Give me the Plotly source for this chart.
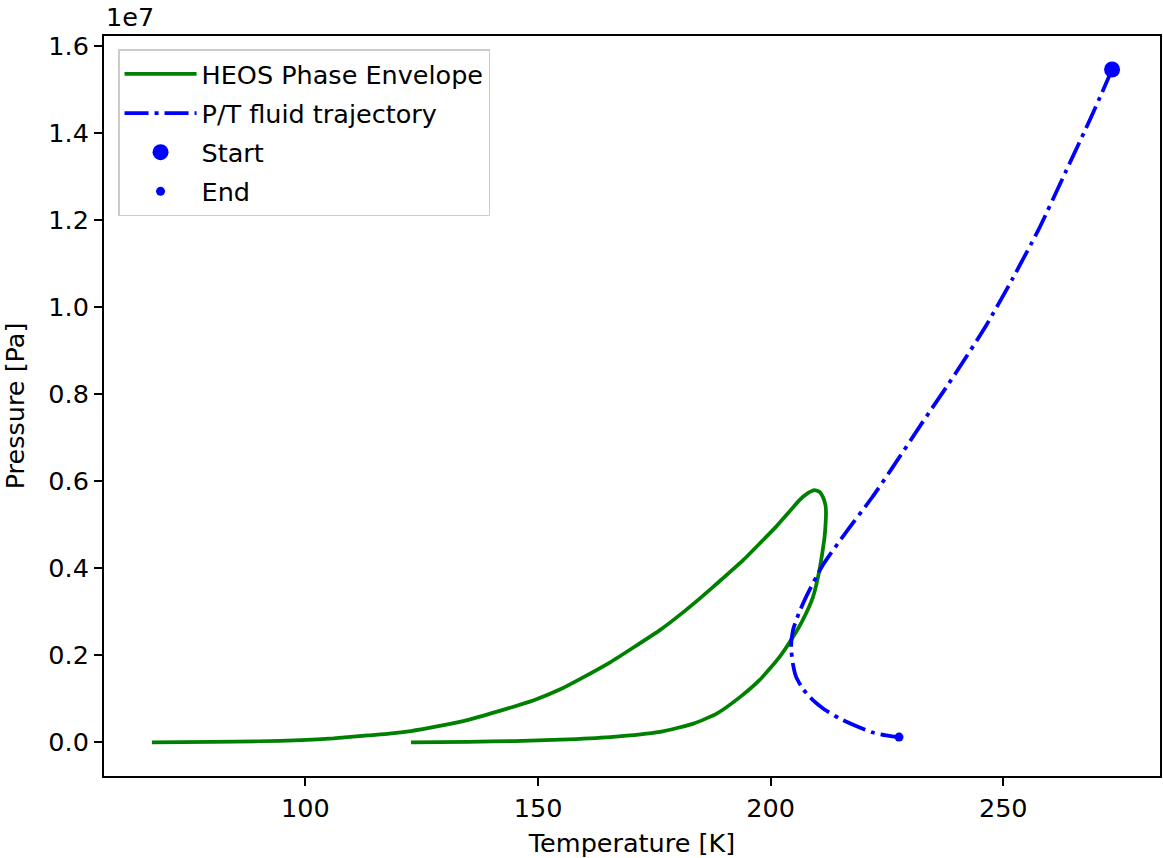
import plotly.graph_objects as go

# Phase envelope (temperature [K], pressure [Pa])
env_T = [67.0, 80.0, 90.0, 99.1, 106.0, 113.4, 118.0, 122.7, 128.0, 134.8, 141.0, 149.1,
         154.8, 159.1, 165.5, 170.5, 176.2, 180.5, 184.8, 189.5, 194.1, 198.0, 201.2, 204.0,
         206.2, 208.0, 209.4, 210.5, 211.2, 211.8, 211.9, 211.8, 211.6, 211.1, 210.5, 209.1,
         206.9, 204.8, 201.9, 197.6, 193.4, 188.4, 183.4, 176.2, 165.5, 154.8, 145.0, 135.0, 122.7]
env_P = [0.0, 0.01e6, 0.025e6, 0.05e6, 0.09e6, 0.16e6, 0.20e6, 0.26e6, 0.36e6, 0.51e6, 0.70e6, 0.97e6,
         1.22e6, 1.46e6, 1.84e6, 2.18e6, 2.58e6, 2.93e6, 3.31e6, 3.75e6, 4.19e6, 4.61e6, 4.96e6, 5.30e6,
         5.57e6, 5.73e6, 5.80e6, 5.76e6, 5.65e6, 5.45e6, 5.26e6, 5.00e6, 4.73e6, 4.35e6, 3.96e6, 3.34e6,
         2.81e6, 2.42e6, 1.96e6, 1.43e6, 1.04e6, 0.66e6, 0.43e6, 0.24e6, 0.12e6, 0.06e6, 0.03e6, 0.01e6, 0.0]

# P/T fluid trajectory
traj_T = [273.4, 269.0, 263.3, 257.6, 251.9, 246.2, 239.8, 232.6, 225.9, 221.8, 216.0, 211.2,
          207.6, 206.0, 204.8, 204.4, 204.8, 205.5, 207.0, 209.1, 211.5, 214.8, 218.5, 221.8,
          224.8, 227.6]
traj_P = [15.47e6, 14.40e6, 13.09e6, 11.79e6, 10.64e6, 9.56e6, 8.49e6, 7.35e6, 6.27e6, 5.63e6, 4.80e6, 4.07e6,
          3.34e6, 2.95e6, 2.58e6, 2.19e6, 1.80e6, 1.50e6, 1.22e6, 0.97e6, 0.76e6, 0.55e6, 0.37e6, 0.23e6,
          0.16e6, 0.12e6]

start_T = [273.4]
start_P = [15.47e6]
end_T = [227.6]
end_P = [0.12e6]

y_tickvals = [0, 2e6, 4e6, 6e6, 8e6, 10e6, 12e6, 14e6, 16e6]
y_ticktext = ["0.0", "0.2", "0.4", "0.6", "0.8", "1.0", "1.2", "1.4", "1.6"]
x_tickvals = [100, 150, 200, 250]

FONT = "DejaVu Sans"
FS = 25.5
TXT = "black"

fig = go.Figure()
fig.add_trace(go.Scatter(x=env_T, y=env_P, mode="lines", name="HEOS Phase Envelope",
                         line=dict(color="green", width=3.75, shape="spline", smoothing=0.5),
                         legendgroup="a"))
fig.add_trace(go.Scatter(x=traj_T, y=traj_P, mode="lines", name="P/T fluid trajectory",
                         line=dict(color="blue", width=3.75, dash="24px,6px,4px,6px",
                                   shape="spline", smoothing=0.6),
                         legendgroup="b"))
fig.add_trace(go.Scatter(x=start_T, y=start_P, mode="markers", name="Start",
                         marker=dict(color="blue", size=16), legendgroup="c"))
fig.add_trace(go.Scatter(x=end_T, y=end_P, mode="markers", name="End",
                         marker=dict(color="blue", size=9), legendgroup="d"))

axis_common = dict(showline=True, linecolor="black", linewidth=2, mirror=True,
                   ticks="outside", ticklen=8, tickwidth=2, tickcolor="black",
                   showgrid=False, zeroline=False,
                   tickfont=dict(family=FONT, size=FS, color=TXT))

fig.update_xaxes(range=[56.7, 283.7], tickvals=x_tickvals,
                 title=dict(text="Temperature [K]", font=dict(family=FONT, size=FS, color=TXT), standoff=13),
                 **axis_common)
fig.update_yaxes(range=[-0.774e6, 16.24e6], tickvals=y_tickvals, ticktext=y_ticktext,
                 title=dict(text="Pressure [Pa]", font=dict(family=FONT, size=FS, color=TXT), standoff=16),
                 **axis_common)

fig.add_annotation(text="1e7", xref="paper", yref="paper", x=0, y=1, xanchor="left", yanchor="bottom",
                   yshift=2, showarrow=False, font=dict(family=FONT, size=FS, color=TXT))

fig.update_layout(
    width=1163, height=858,
    margin=dict(l=104, r=3, t=36, b=82, autoexpand=False),
    plot_bgcolor="white", paper_bgcolor="white",
    font=dict(family=FONT, size=FS, color=TXT),
    legend=dict(x=0.0133, y=0.982, xanchor="left", yanchor="top",
                bordercolor="#cccccc", borderwidth=1.5, bgcolor="rgba(255,255,255,0.8)",
                font=dict(family=FONT, size=FS, color=TXT),
                traceorder="grouped", tracegroupgap=3, itemwidth=72),
    showlegend=True,
)

fig.write_html("out.html", config={"displayModeBar": False},
               post_script="document.body.style.margin='0';document.body.style.overflow='hidden';")
